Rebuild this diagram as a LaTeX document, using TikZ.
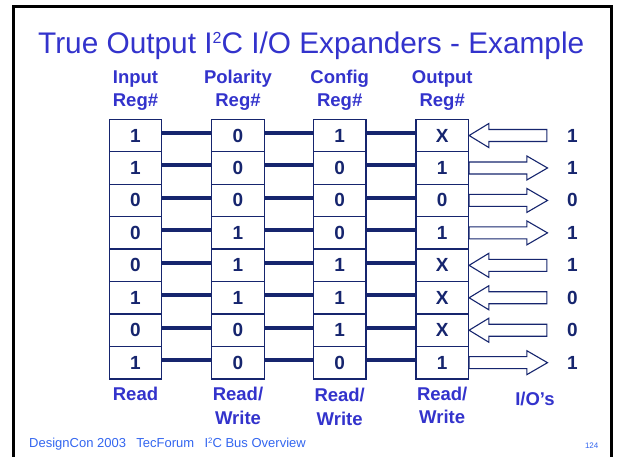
\documentclass[tikz,border=0pt]{standalone}
\usepackage{fontspec}
\setmainfont{Liberation Sans}
\definecolor{titleblue}{HTML}{3333CC}
\definecolor{navy}{HTML}{16256E}
\definecolor{footblue}{HTML}{3366F0}
\newcommand{\supof}[3]{\raisebox{#2}{\fontsize{#1}{#1}\selectfont #3}}
\begin{document}
\begin{tikzpicture}[x=1pt,y=-1pt,
  cell/.style={draw=navy, line width=1.3pt, fill=white, minimum width=52.5pt, minimum height=32.45pt, inner sep=0pt, text=navy, font=\bfseries\fontsize{19}{19}\selectfont},
  link/.style={draw=navy, line width=4pt},
  blockarrow/.style={draw=navy, line width=1.1pt, fill=white, line join=miter},
  head/.style={text=titleblue, font=\bfseries\fontsize{18.5}{23.4}\selectfont, align=center, inner sep=0pt, anchor=base},
  ioval/.style={text=navy, font=\bfseries\fontsize{19}{19}\selectfont, inner sep=0pt},
  frame/.style={draw=black, line width=3pt}]
\useasboundingbox (0,0) rectangle (618,456);
\fill[white] (0,0) rectangle (618,456);
\draw[frame] (13.8,470) -- (13.8,6.5) -- (611.5,6.5) -- (611.5,470);
% title
\node[anchor=base west, inner sep=0pt, text=titleblue, font=\fontsize{29.8}{29.8}\selectfont] (title) at (38,53) {True Output I\supof{16}{9.7pt}{2}C I/O Expanders - Example};
% headings (anchor = baseline of last line)
\node[head] (h1) at (135.5,106.7) {Input\\Reg\#};
\node[head] (h2) at (238,106.7) {Polarity\\Reg\#};
\node[head] (h3) at (339.7,106.7) {Config\\Reg\#};
\node[head] (h4) at (442.2,106.7) {Output\\Reg\#};
% cells
\foreach \c/\x/\vals in {1/135.5/{1,1,0,0,0,1,0,1}, 2/238/{0,0,0,1,1,1,0,0}, 3/339.7/{1,0,0,0,1,1,1,0}, 4/442.2/{X,1,0,1,X,X,X,1}} {
  \foreach \v [count=\r] in \vals {
    \node[cell] (c\c-\r) at (\x, {119.3+32.45*(\r-0.5)}) {\v};
  }
}
% links
\foreach \r in {1,...,8} {
  \draw[link] ([yshift=2.5pt]c1-\r.east) -- ([yshift=2.5pt]c2-\r.west);
  \draw[link] ([yshift=2.5pt]c2-\r.east) -- ([yshift=2.5pt]c3-\r.west);
  \draw[link] ([yshift=2.5pt]c3-\r.east) -- ([yshift=2.5pt]c4-\r.west);
}
% input arrows (pointing left)
\foreach \r in {1,5,6,7} {
  \draw[blockarrow] (c4-\r.east) -- ++(19.7,-12) -- ++(0,6) -- ++(58,0) -- ++(0,12) -- ++(-58,0) -- ++(0,6) -- cycle;
}
% output arrows (pointing right)
\foreach \r in {2,3,4,8} {
  \draw[blockarrow] ([yshift=6pt]c4-\r.east) -- ++(57.7,0) -- ++(0,-6) -- ++(20.7,12) -- ++(-20.7,12) -- ++(0,-6) -- ++(-57.7,0) -- cycle;
}
% I/O values
\foreach \v [count=\r] in {1,1,0,1,1,0,0,1} {
  \node[ioval] (io\r) at (572.3, {119.3+32.45*(\r-0.5)}) {\v};
}
% bottom labels
\node[head] (b1) at (135.5,400) {Read};
\node[head] (b2) at (238,424.3) {Read/\\Write};
\node[head] (b3) at (339.7,425) {Read/\\Write};
\node[head] (b4) at (442.2,423.5) {Read/\\Write};
\node[head] (b5) at (535,405) {I/O’s};
% footer
\node[anchor=base west, inner sep=0pt, text=footblue, font=\fontsize{13}{13}\selectfont] (foot) at (29,447.3) {DesignCon 2003\hspace{0.8em}TecForum\hspace{0.8em}I\supof{7.8}{3.6pt}{2}C Bus Overview};
\node[anchor=base, inner sep=0pt, text=footblue, font=\fontsize{8}{8}\selectfont] (page) at (591.7,448.3) {124};
\end{tikzpicture}
\end{document}
